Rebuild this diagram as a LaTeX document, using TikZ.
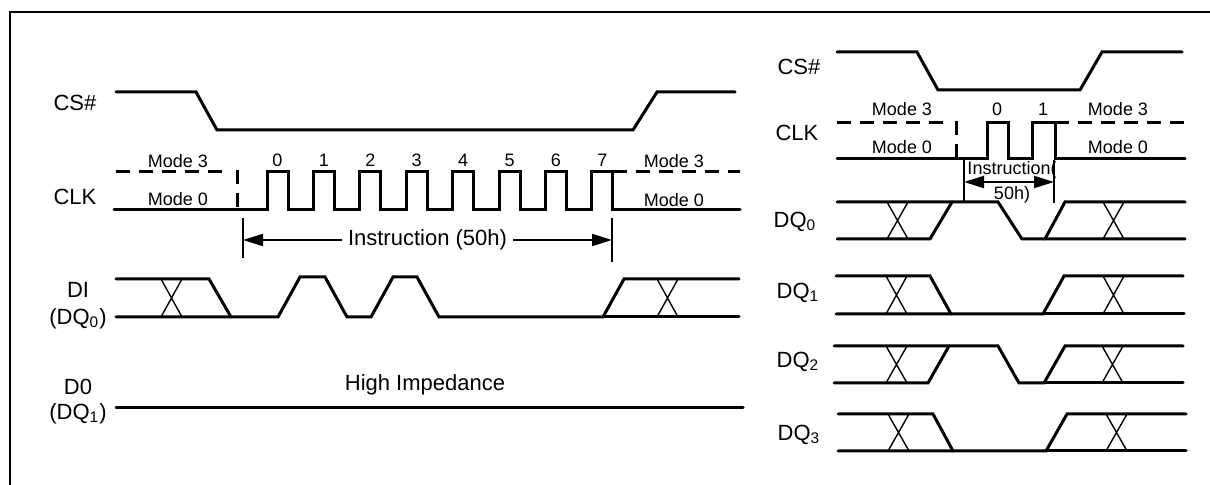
\documentclass[tikz,border=0pt]{standalone}
\usepackage{fontspec}
\setmainfont{Liberation Sans}
\usetikzlibrary{arrows.meta}
\tikzset{
  sig/.style={draw=black, line width=1.5pt, line cap=round},
  xing/.style={draw=black, line width=0.7pt},
  mode3/.style={draw=black, line width=1.5pt, dash pattern=on 7pt off 4.5pt},
  tick/.style={draw=black, line width=0.75pt},
  instr/.style={draw=black, line width=1pt, {Triangle[length=10pt,width=6pt]}-{Triangle[length=10pt,width=6pt]}},
  box/.style={draw=black, line width=1pt},
  lab/.style={inner sep=0pt, font=\fontsize{11}{13}\selectfont},
  labs/.style={inner sep=0pt, font=\fontsize{9}{12.5}\selectfont}
}
\begin{document}
\begin{tikzpicture}[x=0.5pt, y=-0.5pt]
  \useasboundingbox (0,0) rectangle (1210,485);
  \draw[box] (10,485) -- (10,12) -- (1210,12);

  % left: single-line read
  \node[lab] (csA) at (75,103) {CS\#};
  \node[lab] (clkA) at (75,197) {CLK};
  \node[lab] (di) at (78,290) {DI};
  \node[lab] (diq) at (78,319) {(DQ\textsubscript{0})};
  \node[lab] (do) at (78,387) {D0};
  \node[lab] (doq) at (78,414) {(DQ\textsubscript{1})};

  \draw[sig] (116,92) -- (196,92) -- (217,130) -- (633,130) -- (657,92) -- (735,92);

  \draw[mode3] (116,172) -- (228,172);
  \draw[mode3] (237,170) -- (237,210);
  \draw[mode3] (613,172) -- (740,172);
  \draw[sig] (114,210) foreach \i in {0,...,7} {
    -- ({267+46.4*\i},210) -- ({267+46.4*\i},172) -- ({288+46.4*\i},172) -- ({288+46.4*\i},210)
  } -- (740,210);
  \foreach \i in {0,...,7}
    \node[labs] (n\i) at ({277.5+46.4*\i},160) {\i};
  \node[labs] (m3a) at (178,161) {Mode 3};
  \node[labs] (m0a) at (178,199) {Mode 0};
  \node[labs] (m3b) at (674,161) {Mode 3};
  \node[labs] (m0b) at (674,200) {Mode 0};

  \coordinate (ia) at (243,240);
  \coordinate (ib) at (612,240);
  \draw[tick] (243,218) -- (243,258);
  \draw[tick] (612,218) -- (612,262);
  \draw[instr] (ia) -- (ib) node[lab, pos=0.5, fill=white, inner xsep=3pt] (ins) {Instruction (50h)};

  \draw[sig] (116,279) -- (209,279) -- (231,317);
  \draw[sig] (116,317) -- (278,317) -- (300,277) -- (325,277) -- (347,317) -- (371,317)
    -- (393,277) -- (417,277) -- (439,317) -- (603,317) -- (624,279) -- (739,279);
  \draw[sig] (603,317) -- (739,317);

  \draw[sig] (116,408) -- (743,408);
  \node[lab] (hiz) at (425,385) {High Impedance};

  % right: quad read
  \node[lab] (csB) at (799,67) {CS\#};
  \node[lab] (clkB) at (797,133) {CLK};
  \node[lab] (q0) at (795,222) {DQ\textsubscript{0}};
  \node[lab] (q1) at (798,293) {DQ\textsubscript{1}};
  \node[lab] (q2) at (798,362) {DQ\textsubscript{2}};
  \node[lab] (q3) at (799,435) {DQ\textsubscript{3}};

  \draw[sig] (837,52) -- (917,52) -- (938,90) -- (1080,90) -- (1102,52) -- (1182,52);

  \draw[mode3] (837,123) -- (948,123);
  \draw[mode3] (956,121) -- (956,159);
  \draw[mode3] (1055,123) -- (1185,123);
  \draw[sig] (837,159) -- (987,159) -- (987,123) -- (1008,123) -- (1008,159) -- (1032,159)
    -- (1032,123) -- (1055,123) -- (1055,159) -- (1185,159);
  \node[labs] (m3c) at (902,109) {Mode 3};
  \node[labs] (m0c) at (902,147) {Mode 0};
  \node[labs] (c0) at (997,109) {0};
  \node[labs] (c1) at (1043,109) {1};
  \node[labs] (m3d) at (1118,109) {Mode 3};
  \node[labs] (m0d) at (1118,147) {Mode 0};

  \coordinate (ic) at (964,182);
  \coordinate (id) at (1054,182);
  \draw[tick] (964,160) -- (964,203);
  \draw[tick] (1054,160) -- (1054,203);
  \node[labs, align=center] (insB) at (1012,182) {Instruction(\\50h)};
  \draw[instr] (ic) -- (id);

  \draw[sig] (837,202) -- (998,202) -- (1022,239) -- (1185,239);
  \draw[sig] (837,239) -- (930,239) -- (952,202);
  \draw[sig] (1045,239) -- (1065,202) -- (1185,202);

  \draw[sig] (836,276) -- (930,276) -- (951,314);
  \draw[sig] (836,314) -- (1043,314) -- (1064,276) -- (1183,276);
  \draw[sig] (1043,314) -- (1184,314);

  \draw[sig] (834,346) -- (998,346) -- (1019,383) -- (1044,383) -- (1065,346) -- (1183,346);
  \draw[sig] (834,383) -- (928,383) -- (949,346);
  \draw[sig] (1044,383) -- (1183,383);

  \draw[sig] (838,414) -- (933,414) -- (953,451);
  \draw[sig] (838,451) -- (1046,451) -- (1067,414) -- (1186,414);
  \draw[sig] (1046,451) -- (1186,451);

  % don't-care crossings
  \foreach \xa/\ya/\yb in {161/279/317, 657/279/317, 887/202/239, 1103/202/239,
      886/276/314, 1103/276/314, 886/346/383, 1102/346/383, 888/414/451, 1106/414/451}
    \draw[xing] (\xa,\ya) -- (\xa+21,\yb) (\xa,\yb) -- (\xa+21,\ya);
\end{tikzpicture}
\end{document}
